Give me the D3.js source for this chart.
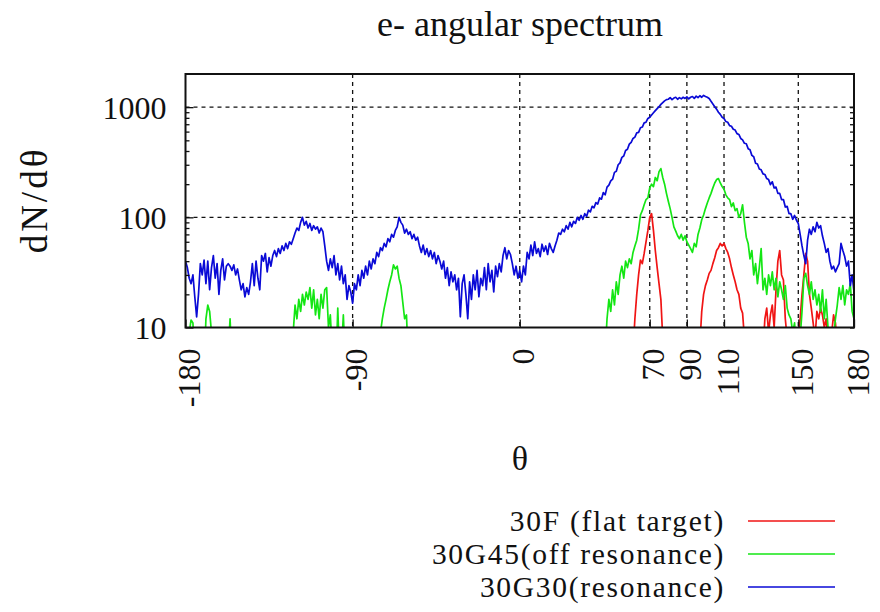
<!DOCTYPE html>
<html>
<head>
<meta charset="utf-8">
<script src="https://cdn.jsdelivr.net/npm/d3@7"></script>
<style>
  html, body { margin: 0; padding: 0; background: #ffffff; }
  svg { display: block; font-family: "Liberation Serif", "DejaVu Serif", serif; }
</style>
</head>
<body>
<svg id="chart" width="880" height="612"></svg>
<script>
// ---- data -------------------------------------------------------------
// emission angle bins, 1 degree wide
const angles = d3.range(-180, 181, 1);

// 30G30 (resonance): dN/dtheta per angle bin, -180 .. 180
const resonanceCounts = [
  40, 35, 28, 25, 30, 19, 12.5, 20, 38, 30,
  41, 25, 40, 22, 35, 45, 28, 38, 20, 33,
  42, 27, 36, 38, 36, 33, 37, 30, 34, 27,
  22, 25, 19, 23, 20, 26, 38, 24, 40, 28,
  22, 45, 40, 47, 32, 43, 36, 45, 50, 44,
  52, 47, 55, 50, 58, 52, 60, 57, 64, 72,
  80, 76, 90, 100, 85, 92, 80, 88, 76, 84,
  78, 82, 72, 80, 74, 55, 40, 33, 42, 35,
  45, 30, 38, 27, 36, 25, 30, 18, 24, 21,
  16.6, 25, 22, 30, 24, 33, 28, 36, 30, 40,
  34, 42, 38, 48, 44, 53, 50, 58, 54, 64,
  60, 70, 66, 76, 82, 100, 90, 85, 72, 78,
  70, 74, 64, 70, 62, 66, 55, 48, 56, 46,
  52, 44, 50, 42, 48, 38, 45, 40, 34, 40,
  28, 35, 24, 32, 26, 30, 22, 28, 12.5, 25,
  30, 20, 12, 26, 18, 30, 22, 33, 19, 28,
  24, 35, 22, 38, 26, 33, 21, 36, 29, 38,
  32, 45, 53, 42, 50, 46, 38, 30, 36, 28,
  33, 26, 36, 30, 48, 42, 56, 45, 60, 47,
  52, 44, 57, 49, 55, 46, 58, 52, 48, 55,
  62, 72, 70, 78, 74, 84, 78, 90, 82, 92,
  88, 100, 94, 104, 96, 108, 102, 116, 112, 126,
  122, 136, 132, 150, 146, 168, 160, 188, 196, 214,
  222, 256, 262, 300, 312, 350, 360, 405, 415, 462,
  480, 520, 535, 585, 590, 650, 660, 720, 730, 790,
  810, 850, 890, 930, 970, 1010, 1060, 1100, 1140, 1170,
  1180, 1220, 1170, 1210, 1230, 1180, 1220, 1190, 1230, 1200,
  1240, 1190, 1230, 1250, 1200, 1260, 1220, 1270, 1230, 1280,
  1250, 1230, 1200, 1130, 1070, 1010, 960, 900, 860, 810,
  790, 740, 730, 680, 670, 630, 620, 575, 565, 520,
  505, 470, 465, 420, 410, 365, 355, 310, 305, 275,
  270, 248, 245, 225, 220, 198, 210, 185, 188, 165,
  165, 145, 145, 124, 126, 108, 108, 96, 104, 94,
  88, 70, 55, 45, 38, 62, 78, 70, 82, 74,
  90, 80, 84, 68, 58, 48, 52, 40, 34, 36,
  32, 35, 38, 58, 50, 44, 36, 40, 24, 30,
  21
];

// 30G45 (off resonance): [angle, dN/dtheta]; values under 10 fall below the axis
const offResonance = [
  [-180, 6], [-179, 8], [-178, 9], [-177, 11.7], [-176, 11], [-175, 5], [-170, 4],
  [-169, 12], [-168, 16], [-167, 14], [-166, 9], [-165, 4], [-158, 3], [-157, 6],
  [-156, 12], [-155, 5], [-150, 3],
  [-124, 4], [-123, 8], [-122, 9], [-121, 16], [-120, 12], [-119, 18], [-118, 14],
  [-117, 20], [-116, 16], [-115, 21], [-114, 18], [-113, 23], [-112, 15], [-111, 22],
  [-110, 13], [-109, 18], [-108, 12], [-107, 20], [-106, 15], [-105, 22], [-104, 23],
  [-103, 10], [-102, 13], [-101, 6], [-100, 8], [-99, 4], [-98, 15], [-97, 5],
  [-96, 6], [-95, 13], [-94, 5], [-90, 3],
  [-77, 3], [-76, 6], [-75, 9], [-74, 12], [-73, 15], [-72, 18], [-71, 22], [-70, 26],
  [-69, 30], [-68, 37], [-67, 34], [-66, 36], [-65, 28], [-64, 24], [-63, 17],
  [-62, 12], [-61, 13], [-60, 5], [-55, 3],
  [40, 3], [45, 4], [46, 6], [47, 12], [48, 18], [49, 14], [50, 22], [51, 16],
  [52, 26], [53, 20], [54, 30], [55, 36], [56, 28], [57, 40], [58, 35], [59, 42],
  [60, 38], [61, 48], [62, 55], [63, 62], [64, 78], [65, 105], [66, 115], [67, 130],
  [68, 145], [69, 150], [70, 185], [71, 200], [72, 190], [73, 230], [74, 215],
  [75, 260], [76, 277], [77, 230], [78, 200], [79, 165], [80, 140], [81, 120],
  [82, 100], [83, 82], [84, 75], [85, 68], [86, 64], [87, 70], [88, 62], [89, 68],
  [90, 60], [91, 56], [92, 52], [93, 48], [94, 58], [95, 54], [96, 70], [97, 80],
  [98, 95], [99, 105], [100, 120], [101, 135], [102, 150], [103, 165], [104, 185],
  [105, 205], [106, 220], [107, 225], [108, 205], [109, 190], [110, 180], [111, 160],
  [112, 150], [113, 145], [114, 125], [115, 135], [116, 115], [117, 120], [118, 100],
  [119, 108], [120, 130], [121, 90], [122, 66], [123, 58], [124, 42], [125, 50],
  [126, 30], [127, 38], [128, 25], [129, 35], [130, 52], [131, 22], [132, 28],
  [133, 20], [134, 30], [135, 24], [136, 32], [137, 22], [138, 28], [139, 19],
  [140, 26], [141, 22], [142, 18], [143, 24], [144, 15], [145, 13], [146, 12],
  [147, 9], [148, 11], [149, 6], [150, 5], [151, 8], [152, 14], [153, 28], [154, 31],
  [155, 24], [156, 20], [157, 26], [158, 18], [159, 22], [160, 16], [161, 20],
  [162, 14], [163, 22], [164, 12], [165, 18], [166, 10], [167, 6], [168, 5], [169, 8],
  [170, 12], [171, 16], [172, 23], [173, 18], [174, 24], [175, 16], [176, 22],
  [177, 20], [178, 25], [179, 14], [180, 12]
];

// 30F (flat target): [angle, dN/dtheta]
const flatTarget = [
  [58, 3], [60, 4], [61, 6], [62, 12], [63, 20], [64, 30], [65, 41], [66, 38],
  [67, 47], [68, 60], [69, 76], [70, 100], [71, 108], [72, 76], [73, 50], [74, 35],
  [75, 25], [76, 18], [77, 8], [78, 4],
  [95, 3], [97, 7], [98, 14], [99, 20], [100, 24], [101, 27], [102, 31], [103, 33],
  [104, 38], [105, 43], [106, 50], [107, 53], [108, 58], [109, 55], [110, 58],
  [111, 52], [112, 48], [113, 42], [114, 35], [115, 30], [116, 26], [117, 22],
  [118, 20], [119, 15], [120, 13.5], [121, 8], [122, 4],
  [130, 3], [132, 12], [133, 15], [134, 9], [135, 13], [136, 16], [137, 10],
  [138, 22], [139, 40], [140, 50], [141, 30], [142, 27], [143, 12], [144, 8],
  [145, 6], [148, 3],
  [150, 7], [151, 12], [152, 20], [153, 30], [154, 47], [155, 40], [156, 20],
  [157, 15], [158, 11], [159, 8], [160, 14], [161, 12], [162, 15], [163, 13],
  [164, 10], [165, 12], [166, 8], [167, 6], [168, 9], [169, 13], [170, 11],
  [171, 7], [173, 3]
];

const seriesNames = ["30F (flat target)", "30G45(off resonance)", "30G30(resonance)"];
const xTickValues = [-180, -90, 0, 70, 90, 110, 150, 180];
const xGridValues = [-90, 0, 70, 90, 110, 150];
const yTickValues = [10, 100, 1000];
const yGridValues = [100, 1000];
const yMinorValues = [20, 30, 40, 50, 60, 70, 80, 90, 200, 300, 400, 500, 600, 700, 800, 900];

// ---- layout -----------------------------------------------------------
const plot = { left: 185.5, right: 854, top: 74, bottom: 327.5 };
const colors = ["#f01414", "#14e614", "#0a0ad6"];
const ink = "#111";

const svg = d3.select("#chart");

const x = d3.scaleLinear().domain([-180, 180]).range([plot.left, plot.right]);
const y = d3.scaleLog().domain([10, 2000]).range([plot.bottom, plot.top]);

svg.append("defs").append("clipPath").attr("id", "plot-clip")
  .append("rect")
  .attr("x", plot.left).attr("y", plot.top)
  .attr("width", plot.right - plot.left).attr("height", plot.bottom - plot.top);

// title
svg.append("text")
  .attr("x", 520).attr("y", 36)
  .attr("text-anchor", "middle")
  .attr("font-size", 36)
  .attr("fill", ink)
  .text("e- angular spectrum");

// dashed grid
const grid = svg.append("g").attr("stroke", ink).attr("stroke-width", 1.3)
  .attr("stroke-dasharray", "4,4");
grid.selectAll("line.gx").data(xGridValues).join("line")
  .attr("class", "gx")
  .attr("x1", d => x(d)).attr("x2", d => x(d))
  .attr("y1", plot.top).attr("y2", plot.bottom);
grid.selectAll("line.gy").data(yGridValues).join("line")
  .attr("class", "gy")
  .attr("x1", plot.left).attr("x2", plot.right)
  .attr("y1", d => y(d)).attr("y2", d => y(d));

// data lines
const line = d3.line().x(d => x(d[0])).y(d => y(d[1]));
const series = [
  flatTarget,
  offResonance,
  angles.map((a, i) => [a, resonanceCounts[i]])
];
const lines = svg.append("g").attr("clip-path", "url(#plot-clip)");
series.forEach((s, i) => {
  lines.append("path")
    .datum(s)
    .attr("fill", "none")
    .attr("stroke", colors[i])
    .attr("stroke-width", 1.7)
    .attr("stroke-linejoin", "round")
    .attr("d", line);
});

// axes
const plainNumber = d => String(d);

const yAxis = svg.append("g")
  .attr("transform", `translate(${plot.left},0)`)
  .call(d3.axisLeft(y).tickValues(yTickValues).tickFormat(plainNumber)
    .tickSizeInner(-8).tickSizeOuter(0).tickPadding(19));
yAxis.attr("font-family", "Liberation Serif, serif").attr("font-size", 32);
yAxis.select(".domain").remove();
yAxis.selectAll("text").attr("fill", ink).attr("dy", "0.34em");
yAxis.selectAll("line").attr("stroke", ink).attr("stroke-width", 1.3);

const yMinorL = svg.append("g")
  .attr("transform", `translate(${plot.left},0)`)
  .call(d3.axisLeft(y).tickValues(yMinorValues).tickFormat("").tickSizeInner(-4).tickSizeOuter(0));
yMinorL.select(".domain").remove();
yMinorL.selectAll("line").attr("stroke", ink).attr("stroke-width", 1.3);

const yRight = svg.append("g")
  .attr("transform", `translate(${plot.right},0)`)
  .call(d3.axisRight(y).tickValues(yMinorValues.concat(yTickValues)).tickFormat("")
    .tickSizeInner(-4).tickSizeOuter(0));
yRight.select(".domain").remove();
yRight.selectAll("line").attr("stroke", ink).attr("stroke-width", 1.3);

const xAxis = svg.append("g")
  .attr("transform", `translate(0,${plot.bottom})`)
  .call(d3.axisBottom(x).tickValues(xTickValues).tickFormat(plainNumber)
    .tickSizeInner(-8).tickSizeOuter(0));
xAxis.attr("font-family", "Liberation Serif, serif").attr("font-size", 32);
xAxis.select(".domain").remove();
xAxis.selectAll("line").attr("stroke", ink).attr("stroke-width", 1.3);
xAxis.selectAll("text")
  .attr("fill", ink)
  .attr("transform", "rotate(-90)")
  .attr("text-anchor", "end")
  .attr("x", -21)
  .attr("y", 14)
  .attr("dy", 0);

// frame
svg.append("rect")
  .attr("x", plot.left).attr("y", plot.top)
  .attr("width", plot.right - plot.left).attr("height", plot.bottom - plot.top)
  .attr("fill", "none").attr("stroke", ink).attr("stroke-width", 2);

// axis titles
svg.append("text")
  .attr("transform", "translate(47,200) rotate(-90)")
  .attr("text-anchor", "middle")
  .attr("font-size", 37)
  .attr("letter-spacing", 3)
  .attr("fill", ink)
  .text("dN/dθ");

svg.append("text")
  .attr("x", 520).attr("y", 470)
  .attr("text-anchor", "middle")
  .attr("font-size", 34)
  .attr("fill", ink)
  .text("θ");

// legend
const legend = svg.append("g");
const rowY = [521, 554, 587];
seriesNames.forEach((name, i) => {
  legend.append("text")
    .attr("x", 725).attr("y", rowY[i] + 10)
    .attr("text-anchor", "end")
    .attr("font-size", 29.5)
    .attr("letter-spacing", 1.7)
    .attr("fill", ink)
    .text(name);
  legend.append("line")
    .attr("x1", 748).attr("x2", 835)
    .attr("y1", rowY[i]).attr("y2", rowY[i])
    .attr("stroke", colors[i]).attr("stroke-width", 1.6);
});
</script>
</body>
</html>
